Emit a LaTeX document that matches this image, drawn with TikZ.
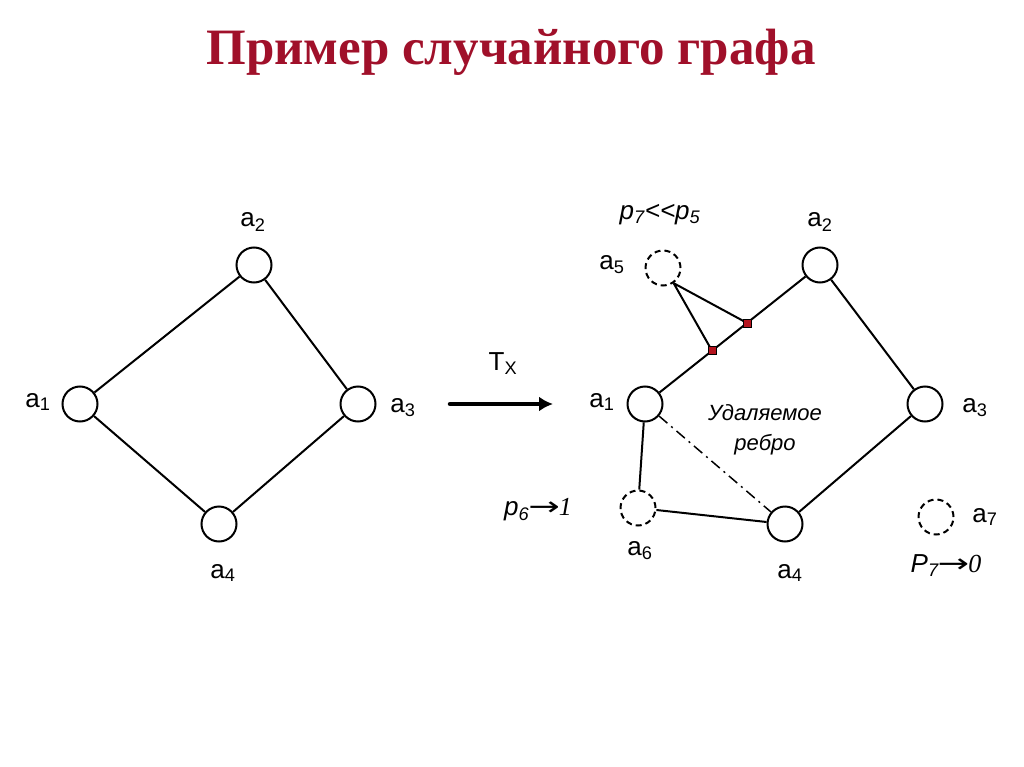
\documentclass[tikz,border=0pt]{standalone}
\usepackage{fontspec}
\usepackage{graphicx}
\setmainfont{Liberation Sans}
\newfontfamily\titlefont{Liberation Serif}
\newfontfamily\serifit{Liberation Serif}
\newfontfamily\arrfont{DejaVu Sans}
\usetikzlibrary{calc,arrows.meta}
\definecolor{titlered}{RGB}{160,16,42}
\definecolor{sqred}{RGB}{180,20,30}
\newcommand{\myarr}{\scalebox{1.45}[1]{\arrfont\upshape →}}
\begin{document}
\begin{tikzpicture}[x=1pt,y=-1pt,
  vert/.style={circle,draw,line width=2pt,minimum size=35pt,inner sep=0pt},
  dvert/.style={vert,dash pattern=on 6pt off 4pt},
  edge/.style={line width=2pt},
  lbl/.style={inner sep=0pt,font=\fontsize{26}{29}\selectfont},
  ilbl/.style={inner sep=0pt,font=\itshape\fontsize{26}{29}\selectfont},
  sq/.style={rectangle,draw=black,fill=sqred,line width=0.6pt,minimum size=8pt,inner sep=0pt}]
\useasboundingbox (0,0) rectangle (1024,767);
\node[font=\titlefont\bfseries\fontsize{51}{55}\selectfont,text=titlered] (title) at (511,52) {Пример случайного графа};
% left graph
\node[vert] (la1) at (80,404) {};
\node[vert] (la2) at (254,265) {};
\node[vert] (la3) at (358,404) {};
\node[vert] (la4) at (219,524) {};
\draw[edge] (la1) -- (la2) (la2) -- (la3) (la3) -- (la4) (la4) -- (la1);
\node[lbl] (ll1) at (38,402) {a\textsubscript{1}};
\node[lbl] (ll2) at (253,222) {a\textsubscript{2}};
\node[lbl] (ll3) at (403,408) {a\textsubscript{3}};
\node[lbl] (ll4) at (223,573) {a\textsubscript{4}};
% arrow
\coordinate (arrs) at (450,404);
\coordinate (arre) at (553,404);
\draw[line width=4.5pt,line cap=round,-{Latex[length=14pt,width=15pt]}] (arrs) -- (arre);
\node[lbl] (tx) at (503,364) {T\textsubscript{X}};
% right graph
\node[vert] (ra1) at (645,404) {};
\node[vert] (ra2) at (820,265) {};
\node[vert] (ra3) at (925,404) {};
\node[vert] (ra4) at (785,524) {};
\node[dvert] (ra5) at (663,268) {};
\node[dvert] (ra6) at (638,508) {};
\node[dvert] (ra7) at (936,517) {};
\draw[edge] (ra1) -- (ra2) (ra2) -- (ra3) (ra3) -- (ra4) (ra1) -- (ra6) (ra6) -- (ra4);
\draw[line width=1.5pt,dash pattern=on 11pt off 5pt on 2pt off 5pt] (ra1) -- (ra4);
\coordinate (s1) at ($(ra1)!0.383!(ra2)$);
\coordinate (s2) at ($(ra1)!0.583!(ra2)$);
\draw[edge] (ra5.-55) -- (s1) (ra5.-55) -- (s2);
\node[sq] (q1) at (s1) {};
\node[sq] (q2) at (s2) {};
\node[lbl] (rl1) at (602,402) {a\textsubscript{1}};
\node[lbl] (rl2) at (820,222) {a\textsubscript{2}};
\node[lbl] (rl3) at (975,408) {a\textsubscript{3}};
\node[lbl] (rl4) at (790,573) {a\textsubscript{4}};
\node[lbl] (rl5) at (612,265) {a\textsubscript{5}};
\node[lbl] (rl6) at (640,551) {a\textsubscript{6}};
\node[lbl] (rl7) at (985,517) {a\textsubscript{7}};
\node[ilbl] (p75) at (660,215) {p\textsubscript{7}<\kern0pt<p\textsubscript{5}};
\node[ilbl] (p6) at (538,510) {p\textsubscript{6}\kern-1pt\myarr\kern-1pt{\serifit\itshape 1}};
\node[ilbl] (p7) at (946,566) {P\textsubscript{7}\kern-1pt\myarr\kern-1pt{\serifit\itshape 0}};
\node[font=\itshape\fontsize{22}{30}\selectfont,align=center,inner sep=0pt] (rem) at (765,430) {Удаляемое\\ребро};
\end{tikzpicture}
\end{document}
